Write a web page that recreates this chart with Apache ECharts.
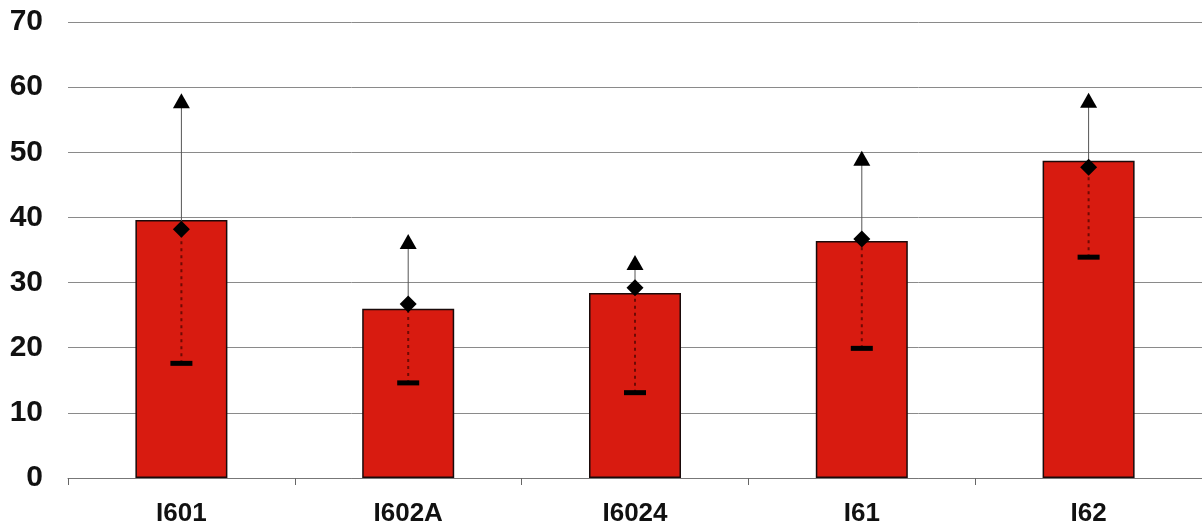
<!DOCTYPE html>
<html><head><meta charset="utf-8">
<script src="https://cdn.jsdelivr.net/npm/echarts@6/dist/echarts.min.js"></script>
<style>html,body{margin:0;padding:0;background:#fff}#c{width:1202px;height:530px}</style>
</head><body><div id="c"></div>
<script>
var categories = ['I601', 'I602A', 'I6024', 'I61', 'I62'];
var barValues = [39.6, 26.0, 28.4, 36.4, 48.7];
var meanValues = [38.2, 26.7, 29.2, 36.7, 47.7];
var maxValues = [57.9, 36.3, 33.1, 49.1, 58.0];
var minValues = [17.6, 14.6, 13.1, 19.9, 33.9];
var yTicks = [0, 10, 20, 30, 40, 50, 60, 70];

var chart = echarts.init(document.getElementById('c'));
var font = '"Liberation Sans", Arial, sans-serif';

function seg(from, to, style) {
  return {
    type: 'custom',
    z: 4,
    silent: true,
    renderItem: function (params, api) {
      var i = api.value(0);
      var a = api.coord([i, api.value(1)]);
      var b = api.coord([i, api.value(2)]);
      return { type: 'line', shape: { x1: a[0], y1: a[1], x2: b[0], y2: b[1] }, style: style };
    },
    data: categories.map(function (c, i) { return [i, from[i], to[i]]; })
  };
}

chart.setOption({
  animation: false,
  grid: { left: 68, top: 22, width: 1137, height: 456, containLabel: false },
  xAxis: {
    type: 'category',
    data: categories,
    boundaryGap: true,
    axisLine: { lineStyle: { color: '#777', width: 1 } },
    axisTick: { show: true, alignWithLabel: false, length: 7, lineStyle: { color: '#666' } },
    axisLabel: { color: '#111', fontFamily: font, fontWeight: 'bold', fontSize: 26, margin: 23 }
  },
  yAxis: {
    type: 'value',
    min: 0, max: 70, interval: 10,
    axisLine: { show: false },
    axisTick: { show: false },
    splitLine: { lineStyle: { color: '#8a8a8a', width: 1 } },
    axisLabel: {
      color: '#111', fontFamily: font, fontWeight: 'bold', fontSize: 30, margin: 25,
      formatter: function (v) { return yTicks.indexOf(v) >= 0 ? String(v) : ''; }
    }
  },
  series: [
    {
      type: 'bar',
      data: barValues,
      barWidth: 92,
      itemStyle: { color: '#d81b10', borderColor: '#1a0a0a', borderWidth: 1.5 },
      z: 2
    },
    seg(meanValues, maxValues, { stroke: '#555', lineWidth: 1 }),
    seg(minValues, meanValues, { stroke: '#6e0a04', lineWidth: 2, lineDash: [3, 4] }),
    {
      type: 'scatter', symbol: 'rect', symbolSize: [22, 5], z: 5,
      itemStyle: { color: '#000', opacity: 1 }, data: minValues
    },
    {
      type: 'scatter', symbol: 'diamond', symbolSize: [17, 17], z: 6,
      itemStyle: { color: '#000', opacity: 1 }, data: meanValues
    },
    {
      type: 'scatter', symbol: 'triangle', symbolSize: [17, 15], z: 6,
      itemStyle: { color: '#000', opacity: 1 }, data: maxValues
    }
  ]
});
</script>
</body></html>
